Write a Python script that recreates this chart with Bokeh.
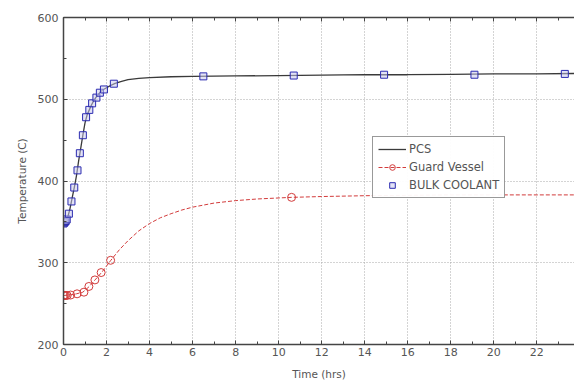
from bokeh.plotting import figure
from bokeh.models import (Range1d, Legend, LegendItem, LinearAxis,
                          SingleIntervalTicker, CustomJSTickFormatter)
from bokeh.embed import file_html
from bokeh.resources import INLINE

# PCS temperature history (smooth curve)
pcs_t = [0, 0.1, 0.2, 0.3, 0.4, 0.5, 0.6, 0.7, 0.8, 0.9, 1.0, 1.1, 1.2, 1.3,
         1.4, 1.5, 1.6, 1.7, 1.8, 2.0, 2.2, 2.4, 2.7, 3.0, 3.5, 4.0, 5.0, 6.0,
         8.0, 10.0, 12.0, 14.0, 16.0, 18.0, 20.0, 22.0, 23.75]
pcs_T = [348, 350, 356, 366, 379, 392, 406, 424, 440, 456, 471, 481, 487, 493,
         498, 502, 505, 508.5, 511, 514, 517, 519.5, 522, 524, 525.5, 526.5,
         527.5, 528, 528.5, 529, 529.5, 530, 530, 530.5, 531, 531, 531.5]

# Bulk coolant samples
bulk_t = [0.0, 0.03, 0.06, 0.1, 0.15, 0.25, 0.37, 0.5, 0.65, 0.76, 0.9, 1.05,
          1.2, 1.33, 1.53, 1.69, 1.88, 2.34, 6.5, 10.7, 14.9, 19.1, 23.3]
bulk_T = [348, 349, 350, 351, 353, 360, 375, 392, 413, 434, 456, 478,
          487, 495, 502, 508, 512, 519, 528, 529, 530, 530, 531]

# Guard vessel samples and connecting curve
gv_t = [0.0, 0.05, 0.1, 0.17, 0.33, 0.63, 0.95, 1.18, 1.46, 1.75, 2.19, 10.6]
gv_T = [260, 260, 260, 260, 260.5, 262, 264, 271, 279, 288, 303, 380]
gv_line_t = [0, 0.3, 0.6, 0.9, 1.2, 1.5, 1.8, 2.2, 2.6, 3.0, 3.5, 4.0, 4.5,
             5.0, 5.5, 6.0, 7.0, 8.0, 9.0, 10.6, 12, 14, 16, 18, 20, 22, 23.75]
gv_line_T = [260, 260.5, 262, 264, 271, 280, 289, 303, 316, 327, 339, 348, 355,
             360, 364.5, 368, 373, 376, 378, 380, 381, 382, 382.5, 383, 383,
             383, 383]

FONT = "DejaVu Sans"
TXT = "#555555"
AX = "#444444"
BLUE = "#2b2bb0"
RED = "#d23b3b"

p = figure(width=574, height=383, output_backend="svg", toolbar_location=None,
           x_range=Range1d(0, 23.75), y_range=Range1d(200, 600),
           min_border_left=63, min_border_right=0, min_border_top=17,
           min_border_bottom=39)
p.outline_line_color = None
p.background_fill_color = "white"
p.border_fill_color = "white"

# Axes
p.xaxis.ticker = SingleIntervalTicker(interval=2, num_minor_ticks=2)
p.yaxis.ticker = SingleIntervalTicker(interval=100, num_minor_ticks=2)
for ax in (p.xaxis[0], p.yaxis[0]):
    ax.axis_line_color = AX
    ax.axis_line_width = 1.5
    ax.major_tick_in = 4
    ax.major_tick_out = 0
    ax.minor_tick_in = 3
    ax.minor_tick_out = 0
    ax.major_tick_line_color = AX
    ax.minor_tick_line_color = AX
    ax.major_label_text_font = FONT
    ax.major_label_text_font_size = "11px"
    ax.major_label_text_color = TXT
    ax.axis_label_text_font = FONT
    ax.axis_label_text_font_size = "10.5px"
    ax.axis_label_text_font_style = "normal"
    ax.axis_label_text_color = TXT
p.xaxis.axis_label = "Time (hrs)"
p.yaxis.axis_label = "Temperature (C)"
p.xaxis.major_label_standoff = 3
p.xaxis.axis_label_standoff = 9
p.yaxis.major_label_standoff = 5
p.yaxis.axis_label_standoff = 7

# Top frame edge with inward ticks, no labels
top = LinearAxis(ticker=SingleIntervalTicker(interval=2, num_minor_ticks=2),
                 formatter=CustomJSTickFormatter(code="return ''"),
                 axis_line_color=AX, axis_line_width=1.5,
                 major_tick_in=4, major_tick_out=0, minor_tick_in=3,
                 minor_tick_out=0, major_tick_line_color=AX,
                 minor_tick_line_color=AX, major_label_standoff=0)
p.add_layout(top, "above")

# Grid
for g in (p.xgrid[0], p.ygrid[0]):
    g.grid_line_color = "#a8a8a8"
    g.grid_line_dash = "1 2"
    g.grid_line_width = 1

# Series
gv_line = p.line(gv_line_t, gv_line_T, line_color=RED, line_width=1,
                 line_dash="4 2")
gv_pts = p.scatter(gv_t, gv_T, marker="circle", size=8, line_color=RED,
                   fill_color=None, line_width=1)
pcs = p.line(pcs_t, pcs_T, line_color="#3a3a3a", line_width=1.3)
bulk_pts = p.scatter(bulk_t, bulk_T, marker="square", size=7, line_color=BLUE,
                     fill_color="#c8c8ee", fill_alpha=0.5, line_width=1)

legend = Legend(items=[
    LegendItem(label="PCS", renderers=[pcs]),
    LegendItem(label="Guard Vessel", renderers=[gv_line, gv_pts]),
    LegendItem(label="BULK COOLANT", renderers=[bulk_pts]),
], location=(309, 146))
legend.border_line_color = "#333333"
legend.border_line_width = 1
legend.label_text_font = FONT
legend.label_text_font_size = "11.5px"
legend.label_text_color = TXT
legend.glyph_width = 28
legend.glyph_height = 14
legend.label_standoff = 3
legend.spacing = 4
legend.padding = 5
legend.margin = 0
legend.background_fill_color = "white"
p.add_layout(legend, "center")

open("out.html", "w").write(file_html(p, INLINE))
